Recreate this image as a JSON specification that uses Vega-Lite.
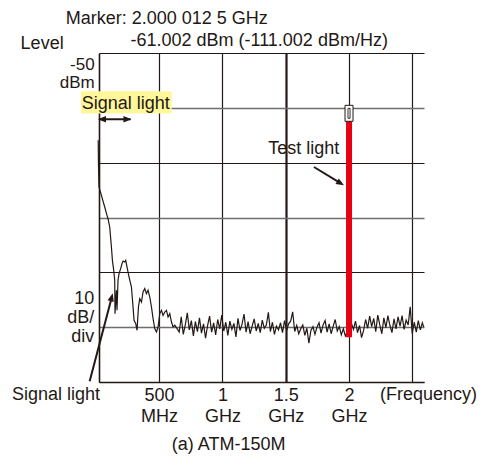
{
  "$schema": "https://vega.github.io/schema/vega-lite/v6.json",
  "width": 325,
  "height": 329,
  "autosize": "none",
  "padding": {"left": 99, "top": 53, "right": 61, "bottom": 74},
  "background": "white",
  "config": {
    "view": {"stroke": null},
    "font": "Liberation Sans",
    "text": {"font": "Liberation Sans", "fontSize": 18, "color": "#231815"}
  },
  "datasets": {
    "trace": [
      {"f":0.0194,"L":-65.92},{"f":0.0217,"L":-70.48},{"f":0.0257,"L":-74.44},{"f":0.0447,"L":-75.95},
      {"f":0.0708,"L":-78.09},{"f":0.0889,"L":-79.60},{"f":0.0968,"L":-80.20},{"f":0.1103,"L":-81.73},
      {"f":0.1158,"L":-83.25},{"f":0.1237,"L":-85.38},{"f":0.1316,"L":-87.81},{"f":0.1419,"L":-89.63},
      {"f":0.1498,"L":-91.45},{"f":0.1522,"L":-97.53},{"f":0.1632,"L":-93.28},{"f":0.1680,"L":-96.93},
      {"f":0.1759,"L":-91.45},{"f":0.1838,"L":-90.23},{"f":0.1972,"L":-89.27},{"f":0.2075,"L":-88.41},
      {"f":0.2154,"L":-87.94},{"f":0.2289,"L":-88.12},{"f":0.2368,"L":-87.81},{"f":0.2470,"L":-89.03},
      {"f":0.2628,"L":-90.85},{"f":0.2818,"L":-92.68},{"f":0.2945,"L":-96.32},{"f":0.3024,"L":-98.75},
      {"f":0.3158,"L":-99.35},{"f":0.3261,"L":-100.57},{"f":0.3372,"L":-96.32},{"f":0.3474,"L":-94.79},
      {"f":0.3609,"L":-95.41},{"f":0.3735,"L":-93.59},{"f":0.3870,"L":-92.97},{"f":0.4004,"L":-93.88},
      {"f":0.4130,"L":-93.28},{"f":0.4265,"L":-94.50},{"f":0.4399,"L":-96.32},{"f":0.4526,"L":-98.44},
      {"f":0.4660,"L":-100.26},{"f":0.4794,"L":-100.88},{"f":0.4921,"L":-99.97},{"f":0.5055,"L":-97.53},
      {"f":0.5190,"L":-96.93},{"f":0.5316,"L":-97.84},{"f":0.5451,"L":-97.24},{"f":0.5585,"L":-96.93},
      {"f":0.5711,"L":-98.15},{"f":0.5846,"L":-97.53},{"f":0.5980,"L":-99.06},{"f":0.6107,"L":-99.97},
      {"f":0.6241,"L":-99.66},{"f":0.6423,"L":-100.27},
      {"f":0.659,"L":-100.9},{"f":0.675,"L":-98.1},{"f":0.691,"L":-101.3},{"f":0.707,"L":-99.6},
      {"f":0.723,"L":-97.4},{"f":0.739,"L":-100.5},{"f":0.755,"L":-98.8},{"f":0.771,"L":-101.6},
      {"f":0.787,"L":-99.0},{"f":0.803,"L":-100.8},{"f":0.819,"L":-98.3},{"f":0.835,"L":-101.1},
      {"f":0.851,"L":-99.4},{"f":0.867,"L":-102.0},{"f":0.883,"L":-99.7},{"f":0.899,"L":-98.0},
      {"f":0.915,"L":-100.9},{"f":0.931,"L":-99.2},{"f":0.947,"L":-101.4},{"f":0.963,"L":-98.6},
      {"f":0.979,"L":-100.3},{"f":0.995,"L":-97.8},{"f":1.011,"L":-100.7},{"f":1.027,"L":-99.1},
      {"f":1.043,"L":-101.5},{"f":1.059,"L":-98.9},{"f":1.075,"L":-100.4},{"f":1.091,"L":-99.3},
      {"f":1.107,"L":-101.8},{"f":1.123,"L":-98.4},{"f":1.139,"L":-100.6},{"f":1.155,"L":-99.5},
      {"f":1.171,"L":-97.6},{"f":1.187,"L":-100.9},{"f":1.203,"L":-99.0},{"f":1.219,"L":-101.2},
      {"f":1.235,"L":-99.8},{"f":1.251,"L":-98.5},{"f":1.267,"L":-100.7},{"f":1.283,"L":-99.3},
      {"f":1.299,"L":-101.0},{"f":1.315,"L":-98.7},{"f":1.331,"L":-100.2},{"f":1.347,"L":-99.6},
      {"f":1.363,"L":-97.3},{"f":1.379,"L":-100.8},{"f":1.395,"L":-99.1},{"f":1.411,"L":-101.3},
      {"f":1.427,"L":-99.8},{"f":1.443,"L":-100.5},{"f":1.459,"L":-99.2},{"f":1.475,"L":-101.0},
      {"f":1.491,"L":-98.8},{"f":1.507,"L":-100.6},{"f":1.523,"L":-99.4},{"f":1.539,"L":-98.9},
      {"f":1.555,"L":-97.2},{"f":1.571,"L":-100.8},{"f":1.587,"L":-99.7},{"f":1.603,"L":-101.2},
      {"f":1.619,"L":-100.3},{"f":1.635,"L":-99.6},{"f":1.651,"L":-101.5},{"f":1.667,"L":-100.2},
      {"f":1.683,"L":-102.9},{"f":1.699,"L":-100.6},{"f":1.715,"L":-99.9},{"f":1.731,"L":-101.3},
      {"f":1.747,"L":-100.0},{"f":1.763,"L":-99.2},{"f":1.779,"L":-101.1},{"f":1.795,"L":-99.6},
      {"f":1.811,"L":-98.8},{"f":1.827,"L":-100.9},{"f":1.843,"L":-99.4},{"f":1.859,"L":-101.2},
      {"f":1.875,"L":-99.8},{"f":1.891,"L":-98.6},{"f":1.907,"L":-100.7},{"f":1.923,"L":-99.9},
      {"f":1.939,"L":-101.4},{"f":1.955,"L":-100.3},{"f":1.971,"L":-101.6},{"f":1.987,"L":-100.8},
      {"f":2.003,"L":-101.5},{"f":2.019,"L":-99.3},{"f":2.035,"L":-100.4},{"f":2.051,"L":-98.9},
      {"f":2.067,"L":-101.0},{"f":2.083,"L":-99.7},{"f":2.099,"L":-101.9},{"f":2.115,"L":-100.6},
      {"f":2.131,"L":-98.6},{"f":2.147,"L":-100.2},{"f":2.163,"L":-98.0},{"f":2.179,"L":-99.9},
      {"f":2.195,"L":-98.4},{"f":2.211,"L":-100.8},{"f":2.227,"L":-97.8},{"f":2.243,"L":-99.6},
      {"f":2.259,"L":-101.2},{"f":2.275,"L":-98.3},{"f":2.291,"L":-100.1},{"f":2.307,"L":-97.9},
      {"f":2.323,"L":-99.7},{"f":2.339,"L":-101.0},{"f":2.355,"L":-98.5},{"f":2.371,"L":-100.3},
      {"f":2.387,"L":-98.1},{"f":2.403,"L":-99.8},{"f":2.419,"L":-97.9},{"f":2.435,"L":-100.4},
      {"f":2.451,"L":-98.7},{"f":2.467,"L":-99.6},{"f":2.483,"L":-96.3},{"f":2.499,"L":-101.2},
      {"f":2.515,"L":-99.1},{"f":2.531,"L":-100.9},{"f":2.547,"L":-98.8},{"f":2.563,"L":-100.5},
      {"f":2.579,"L":-99.2},{"f":2.590,"L":-100.0}
    ],
    "highlight": [{"f":-0.1164,"L":-56.99,"f2":0.5998,"L2":-61.05}],
    "test": [{"f":2.0,"L":-62.46,"L2":-101.85}],
    "marker": [{"f":2.0,"L":-61.0}],
    "arrows": [
      {"f":0.025,"L":-62.09,"f2":0.275,"L2":-62.09},
      {"f":1.723,"L":-70.79,"f2":1.936,"L2":-73.77},
      {"f":-0.048,"L":-109.88,"f2":0.126,"L2":-94.57}
    ],
    "heads": [
      {"f":0.0177,"L":-62.09,"dir":180},
      {"f":0.282,"L":-62.09,"dir":0},
      {"f":1.960,"L":-74.13,"dir":31.4},
      {"f":0.134,"L":-93.83,"dir":284.7}
    ],
    "textLeft": [
      {"t":"Marker: 2.000 012 5 GHz","f":-0.2375,"L":-44.64},
      {"t":"-61.002 dBm (-111.002 dBm/Hz)","f":0.2739,"L":-48.65},
      {"t":"Level","f":-0.5933,"L":-49.29},
      {"t":"Signal light","f":-0.1111,"L":-60.14},
      {"t":"Test light","f":1.3617,"L":-68.35},
      {"t":"Signal light","f":-0.662,"L":-113.34},
      {"t":"(Frequency)","f":2.2447,"L":-113.34}
    ],
    "scaleTop": [
      {"t":"-50\ndBm","f":-0.0083,"L":-53.16}
    ],
    "scaleDiv": [
      {"t":"10\ndB/\ndiv","f":-0.0120,"L":-95.83}
    ],
    "textCenter": [
      {"t":"(a) ATM-150M","f":1.0494,"L":-122.46}
    ]
  },
  "encoding": {
    "x": {
      "field": "f", "type": "quantitative",
      "scale": {"domain": [0.0257, 2.592], "nice": false, "zero": false},
      "axis": {
        "title": null,
        "values": [0.5, 1, 1.5, 2, 2.5],
        "grid": true,
        "gridColor": "#231815",
        "gridOpacity": 1,
        "gridWidth": {"condition": {"test": "datum.value == 1.5", "value": 2.2}, "value": 1.2},
        "ticks": false,
        "domain": true,
        "domainColor": "#231815",
        "domainWidth": 1.6,
        "labelExpr": "datum.value == 0.5 ? ['500','MHz'] : datum.value == 2.5 ? '' : [toString(datum.value), 'GHz']",
        "labelFont": "Liberation Sans",
        "labelFontSize": 18,
        "labelColor": "#231815",
        "labelBaseline": "alphabetic",
        "labelPadding": 18,
        "labelLineHeight": 21.7,
        "labelOverlap": false,
        "labelFlush": false,
        "labelBound": false
      }
    },
    "y": {
      "field": "L", "type": "quantitative",
      "scale": {"domain": [-110, -50], "nice": false, "zero": false},
      "axis": {
        "title": null,
        "values": [-50, -60, -70, -80, -90, -100, -110],
        "grid": true,
        "gridColor": {"condition": {"test": "datum.value == -60 || datum.value == -80 || datum.value == -100", "value": "#6e6e6e"}, "value": "#231815"},
        "gridOpacity": 1,
        "gridWidth": {"condition": {"test": "datum.value == -60 || datum.value == -80 || datum.value == -100", "value": 1.6}, "value": 1.2},
        "ticks": false,
        "labels": false,
        "domain": true,
        "domainColor": "#231815",
        "domainWidth": 1.6
      }
    }
  },
  "layer": [
    {
      "data": {"name": "highlight"},
      "mark": {"type": "rect", "fill": "#fff799"},
      "encoding": {"x2": {"field": "f2"}, "y2": {"field": "L2"}}
    },
    {
      "data": {"name": "trace"},
      "mark": {"type": "line", "color": "#231815", "strokeWidth": 1.2}
    },
    {
      "data": {"name": "test"},
      "mark": {"type": "rule", "color": "#e60012", "strokeWidth": 6, "strokeCap": "butt"},
      "encoding": {"y2": {"field": "L2"}}
    },
    {
      "data": {"name": "marker"},
      "mark": {"type": "point", "shape": "M-0.5,-1H0.5V1H-0.5Z", "size": 256, "filled": false, "fill": "white", "stroke": "#231815", "strokeWidth": 1, "opacity": 1, "fillOpacity": 1, "strokeOpacity": 1}
    },
    {
      "data": {"name": "marker"},
      "mark": {"type": "point", "shape": "M-0.13,-0.62H0.13V0.62H-0.13Z", "size": 256, "filled": false, "fill": "white", "stroke": "#231815", "strokeWidth": 0.9, "opacity": 1, "fillOpacity": 1, "strokeOpacity": 1}
    },
    {
      "data": {"name": "arrows"},
      "mark": {"type": "rule", "color": "#231815", "strokeWidth": 2},
      "encoding": {"x2": {"field": "f2"}, "y2": {"field": "L2"}}
    },
    {
      "data": {"name": "heads"},
      "mark": {"type": "point", "shape": "M0,0L-2,-0.8L-2,0.8Z", "size": 64, "filled": true, "color": "#231815", "opacity": 1},
      "encoding": {"angle": {"field": "dir", "type": "quantitative", "scale": null}}
    },
    {
      "data": {"name": "textLeft"},
      "mark": {"type": "text", "align": "left", "baseline": "alphabetic", "fontSize": 18, "font": "Liberation Sans", "color": "#231815"},
      "encoding": {"text": {"field": "t"}}
    },
    {
      "data": {"name": "scaleTop"},
      "mark": {"type": "text", "align": "right", "baseline": "alphabetic", "fontSize": 17, "font": "Liberation Sans", "color": "#231815", "lineBreak": "\n", "lineHeight": 17.7},
      "encoding": {"text": {"field": "t"}}
    },
    {
      "data": {"name": "scaleDiv"},
      "mark": {"type": "text", "align": "right", "baseline": "alphabetic", "fontSize": 18, "font": "Liberation Sans", "color": "#231815", "lineBreak": "\n", "lineHeight": 18.8},
      "encoding": {"text": {"field": "t"}}
    },
    {
      "data": {"name": "textCenter"},
      "mark": {"type": "text", "align": "center", "baseline": "alphabetic", "fontSize": 18, "font": "Liberation Sans", "color": "#231815"},
      "encoding": {"text": {"field": "t"}}
    }
  ]
}
